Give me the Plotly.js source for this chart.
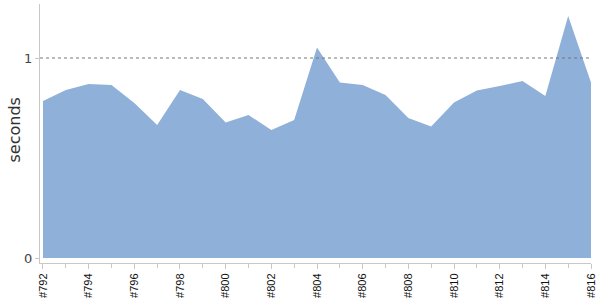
<!DOCTYPE html>
<html><head><meta charset="utf-8">
<script src="https://cdn.plot.ly/plotly-3.0.1.min.js"></script>
<style>html,body{margin:0;padding:0;background:#fff}#chart{width:600px;height:300px}</style>
</head><body><div id="chart"></div>
<script>
const builds = ["#792","#793","#794","#795","#796","#797","#798","#799","#800","#801","#802","#803","#804","#805","#806","#807","#808","#809","#810","#811","#812","#813","#814","#815","#816"];
const seconds = [0.785,0.84,0.87,0.865,0.775,0.665,0.84,0.795,0.677,0.715,0.64,0.69,1.053,0.877,0.865,0.815,0.70,0.657,0.777,0.837,0.86,0.885,0.81,1.21,0.877];
const refLine = 1;
const yTitle = 'seconds';
const idx = builds.map((_, i) => i);
const labelIdx = idx.filter(i => i % 2 === 0);

Plotly.newPlot('chart', [{
  x: idx, y: seconds, type: 'scatter', mode: 'lines',
  fill: 'tozeroy', fillcolor: 'rgb(143,177,217)',
  line: {width: 0, color: 'rgb(143,177,217)'},
  hoverinfo: 'skip'
}], {
  width: 600, height: 300,
  margin: {l: 40, r: 9, t: 4, b: 37},
  paper_bgcolor: '#fff', plot_bgcolor: '#fff',
  showlegend: false,
  font: {family: 'DejaVu Sans, sans-serif'},
  shapes: [{type: 'line', xref: 'paper', x0: 0, x1: 1, yref: 'y', y0: refLine, y1: refLine,
            line: {color: '#777', width: 1, dash: 'dot'}, layer: 'above'}],
  annotations: [{text: yTitle, xref: 'paper', yref: 'paper', x: -0.047, y: 0.512,
                 xanchor: 'center', yanchor: 'middle', textangle: -90, showarrow: false,
                 font: {size: 16, color: '#333'}}],
  xaxis: {
    range: [-0.131, 24], showgrid: false, zeroline: false,
    showline: true, linecolor: '#c8c8c8', linewidth: 1,
    tickmode: 'array', tickvals: labelIdx, ticktext: labelIdx.map(i => builds[i]),
    ticks: 'outside', ticklen: 5, tickcolor: '#c8c8c8',
    tickangle: -90, tickfont: {family: 'Liberation Sans, Arial, sans-serif', size: 11, color: '#111'},
    minor: {dtick: 1, tick0: 0, ticks: 'outside', ticklen: 4, tickcolor: '#c8c8c8', showgrid: false}
  },
  yaxis: {
    range: [-0.025, 1.27], zeroline: false, showgrid: false,
    showline: true, linecolor: '#c8c8c8', linewidth: 1,
    tickmode: 'array', tickvals: [0, 1], ticktext: ['0', '1'],
    ticks: 'outside', ticklen: 4, tickcolor: '#c8c8c8',
    tickfont: {size: 13, color: '#444'}
  }
}, {displayModeBar: false, staticPlot: true});
</script></body></html>
